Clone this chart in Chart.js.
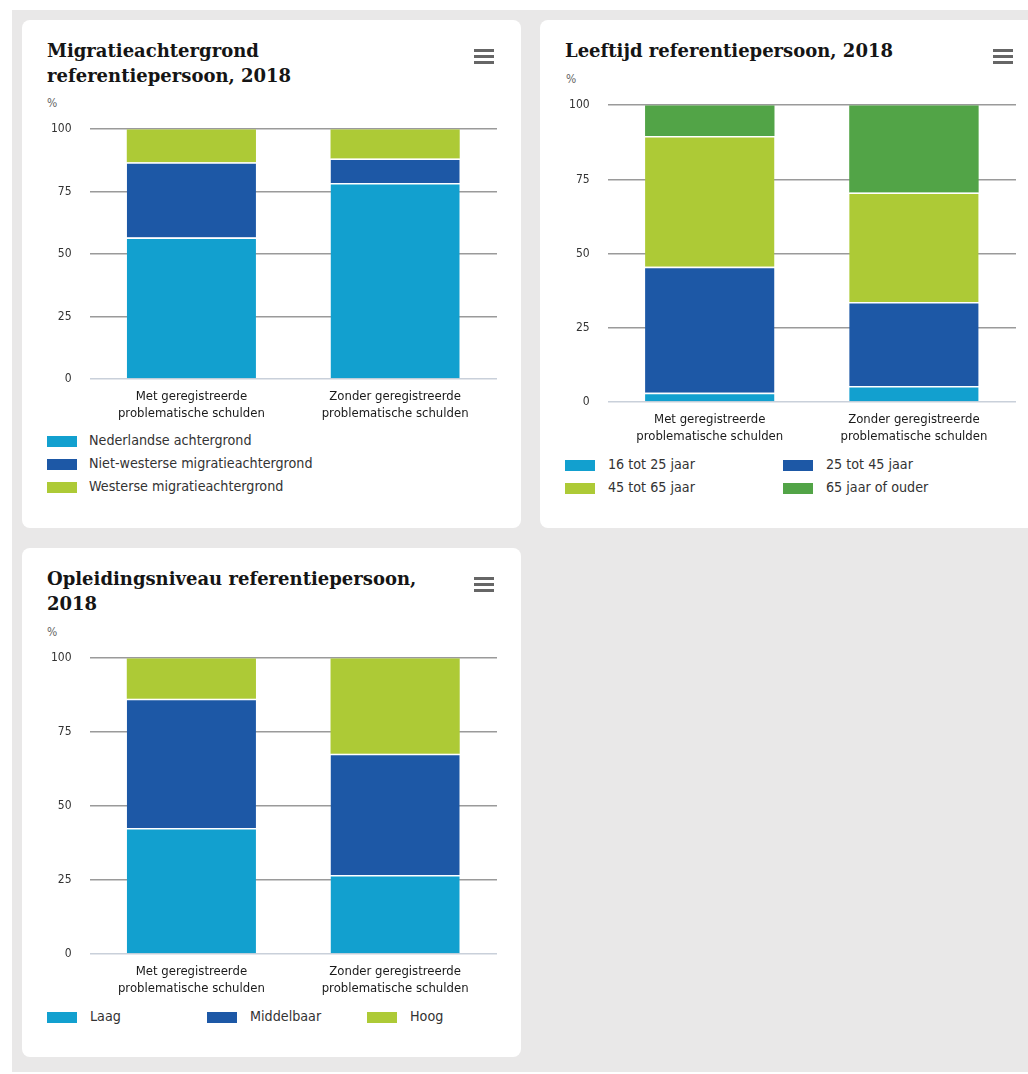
<!DOCTYPE html>
<html>
<head>
<meta charset="utf-8">
<script src="https://cdn.jsdelivr.net/npm/chart.js@4/dist/chart.umd.min.js"></script>
<style>
  html, body { margin:0; padding:0; width:1028px; height:1074px; overflow:hidden; background:#ffffff; }
  #bg { position:absolute; left:12px; top:10px; width:1020px; height:1062px; background:#e9e8e8; }
  .panel { position:absolute; background:#fff; border-radius:8px; }
  .title { position:absolute; font-family:"DejaVu Serif", serif; font-weight:bold; font-size:18px; line-height:25px; color:#151515; white-space:nowrap; }
  .unit { position:absolute; font-family:"DejaVu Sans Condensed","DejaVu Sans",sans-serif; font-size:12px; color:#666; }
  .menu { position:absolute; width:20px; }
  .menu div { height:3px; background:#666; margin-bottom:3px; }
  canvas { position:absolute; }
  .leg { position:absolute; font-family:"DejaVu Sans Condensed","DejaVu Sans",sans-serif; font-size:14.2px; color:#333; white-space:nowrap; }
  .leg .sw { position:absolute; width:30px; height:11px; }
  .leg .tx { position:absolute; line-height:18px; }
</style>
</head>
<body>
<div id="bg"></div>
<div class="panel" style="left:22px;top:20px;width:499px;height:508px;"></div>
<div class="panel" style="left:540px;top:20px;width:520px;height:508px;"></div>
<div class="panel" style="left:22px;top:548px;width:499px;height:509px;"></div>

<div class="title" style="left:47px;top:38px;">Migratieachtergrond<br>referentiepersoon, 2018</div>
<div class="title" style="left:565px;top:38px;">Leeftijd referentiepersoon, 2018</div>
<div class="title" style="left:47px;top:566px;">Opleidingsniveau referentiepersoon,<br>2018</div>

<div class="unit" style="left:47px;top:96px;">%</div>
<div class="unit" style="left:566px;top:72px;">%</div>
<div class="unit" style="left:47px;top:625px;">%</div>

<div class="menu" style="left:474px;top:49px;"><div></div><div></div><div></div></div>
<div class="menu" style="left:993px;top:49px;"><div></div><div></div><div></div></div>
<div class="menu" style="left:474px;top:577px;"><div></div><div></div><div></div></div>

<canvas id="c1"></canvas>
<canvas id="c2"></canvas>
<canvas id="c3"></canvas>
<div id="legends"></div>

<script>
// ---- data ----
const categories = [['Met geregistreerde', 'problematische schulden'], ['Zonder geregistreerde', 'problematische schulden']];
const yTicks = [0, 25, 50, 75, 100];

// Chart 1: Migratieachtergrond
const migratieSeries = ['Nederlandse achtergrond', 'Niet-westerse migratieachtergrond', 'Westerse migratieachtergrond'];
const nederlandse = [56.6, 78.5];
const nietWesters = [30.2, 9.8];
const westers = [13.2, 11.7];

// Chart 2: Leeftijd
const leeftijdSeries = ['16 tot 25 jaar', '25 tot 45 jaar', '45 tot 65 jaar', '65 jaar of ouder'];
const jaar16tot25 = [3.1, 5.4];
const jaar25tot45 = [42.5, 28.3];
const jaar45tot65 = [44.0, 36.9];
const jaar65plus = [10.4, 29.4];

// Chart 3: Opleidingsniveau
const opleidingSeries = ['Laag', 'Middelbaar', 'Hoog'];
const laag = [42.6, 26.7];
const middelbaar = [43.7, 41.0];
const hoog = [13.7, 32.3];

// ---- styling ----
const C_LIGHT = '#12a0cf', C_DARK = '#1d58a6', C_YG = '#adca36', C_GREEN = '#52a447';
const SANS = '"DejaVu Sans Condensed", "DejaVu Sans", sans-serif';

function makeChart(id, geo, seriesNames, seriesData, colors) {
  const padT = 20, padR = 20, xh = 50;
  const cv = document.getElementById(id);
  const left = geo.panelLeft;
  const top = geo.plotTop - padT - 4;
  const w = geo.plotRight + padR - left;
  const h = geo.plotBottom + xh + 1 - top;
  cv.style.left = left + 'px'; cv.style.top = top + 'px';
  cv.width = w; cv.height = h;
  cv.style.width = w + 'px'; cv.style.height = h + 'px';
  const yW = geo.plotLeft - left;
  const n = seriesNames.length;
  new Chart(cv, {
    type: 'bar',
    data: {
      labels: categories,
      datasets: seriesNames.map((name, i) => ({
        label: name,
        data: seriesData[i],
        backgroundColor: colors[i],
        borderColor: '#ffffff',
        borderWidth: i < n - 1 ? { top: 1.5, left: 0, right: 0, bottom: 0 } : 0,
        borderSkipped: false,
        barPercentage: 1,
        categoryPercentage: 0.634
      }))
    },
    options: {
      responsive: false,
      animation: false,
      layout: { padding: { top: padT, right: padR, left: 0, bottom: 0 } },
      plugins: { legend: { display: false }, tooltip: { enabled: false }, title: { display: false } },
      scales: {
        x: {
          stacked: true,
          grid: { display: false, drawTicks: false },
          border: { display: false },
          ticks: { color: '#1a1a1a', font: { family: SANS, size: 13, lineHeight: 1.3 }, padding: 9, maxRotation: 0, autoSkip: false },
          afterFit: s => { s.height = xh; }
        },
        y: {
          stacked: true,
          min: 0, max: 100,
          afterBuildTicks: s => { s.ticks = yTicks.map(v => ({ value: v })); },
          grid: {
            drawTicks: false,
            lineWidth: 1.5,
            color: ctx => (ctx.tick && ctx.tick.value === 0) ? '#c9d0da' : '#9a9a9a'
          },
          border: { display: false },
          ticks: { color: '#333', font: { family: SANS, size: 12 }, padding: 18 },
          afterFit: s => { s.width = yW; }
        }
      }
    }
  });
}

makeChart('c1', { panelLeft: 22, plotLeft: 89.5, plotRight: 497, plotTop: 128, plotBottom: 378 },
  migratieSeries, [nederlandse, nietWesters, westers], [C_LIGHT, C_DARK, C_YG]);
makeChart('c2', { panelLeft: 540, plotLeft: 607.7, plotRight: 1016, plotTop: 104, plotBottom: 401 },
  leeftijdSeries, [jaar16tot25, jaar25tot45, jaar45tot65, jaar65plus], [C_LIGHT, C_DARK, C_YG, C_GREEN]);
makeChart('c3', { panelLeft: 22, plotLeft: 89.5, plotRight: 497, plotTop: 656.7, plotBottom: 953 },
  opleidingSeries, [laag, middelbaar, hoog], [C_LIGHT, C_DARK, C_YG]);

// ---- HTML legends ----
function legend(names, colors, positions) {
  const root = document.getElementById('legends');
  names.forEach((name, i) => {
    const p = positions[i];
    const d = document.createElement('div');
    d.className = 'leg';
    d.style.left = p[0] + 'px'; d.style.top = p[1] + 'px';
    d.innerHTML = '<div class="sw" style="left:0;top:-5px;background:' + colors[i] + '"></div>' +
                  '<div class="tx" style="left:' + p[2] + 'px;top:-10px">' + name + '</div>';
    root.appendChild(d);
  });
}
legend(migratieSeries, [C_LIGHT, C_DARK, C_YG], [[47, 441, 42], [47, 464, 42], [47, 487, 42]]);
legend(leeftijdSeries, [C_LIGHT, C_DARK, C_YG, C_GREEN], [[565, 465, 43], [783, 465, 43], [565, 488, 43], [783, 488, 43]]);
legend(opleidingSeries, [C_LIGHT, C_DARK, C_YG], [[47, 1017, 43], [207, 1017, 43], [367, 1017, 43]]);
</script>
</body>
</html>
